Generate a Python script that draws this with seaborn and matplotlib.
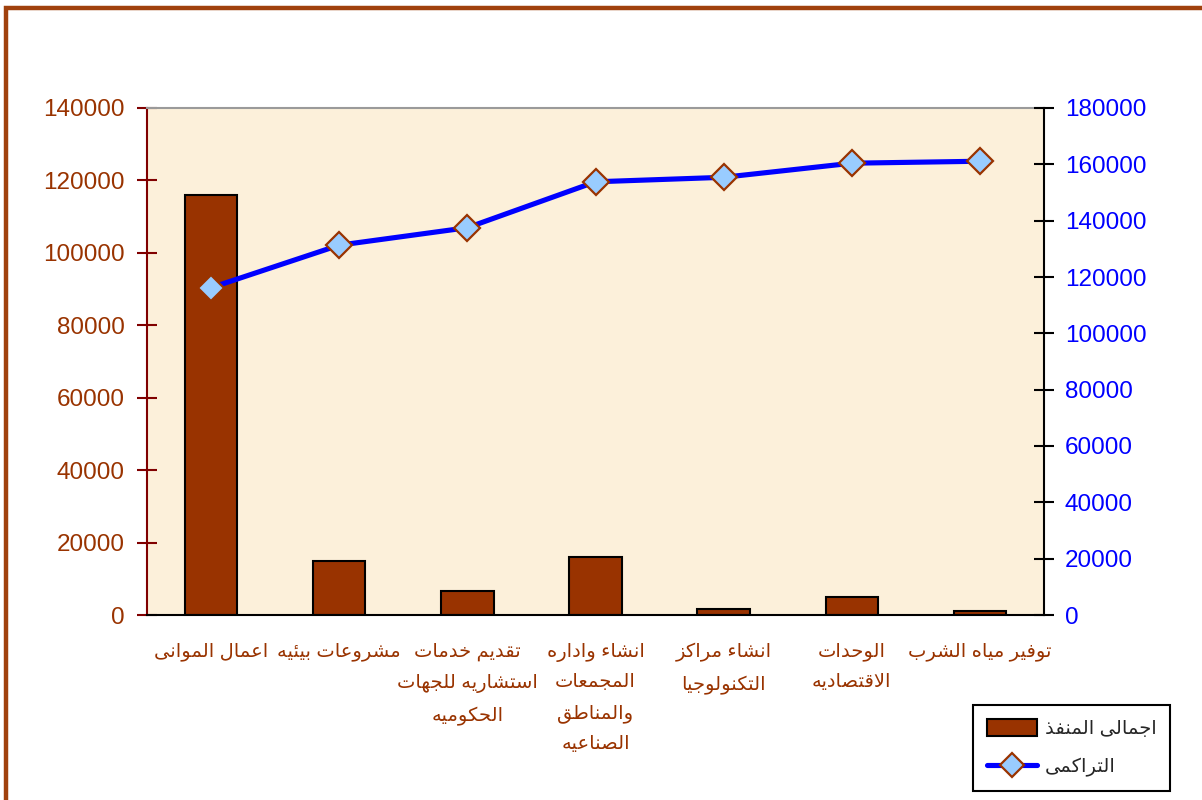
import numpy as np
import pandas as pd
import matplotlib
matplotlib.use("Agg")
import matplotlib.pyplot as plt
import seaborn as sns
from matplotlib.patches import Patch, Rectangle
from matplotlib.lines import Line2D

# ---------------- data ----------------
categories = [
    "اعمال الموانى",
    "مشروعات بيئيه",
    "تقديم خدمات\nاستشاريه للجهات\nالحكوميه",
    "انشاء واداره\nالمجمعات\nوالمناطق\nالصناعيه",
    "انشاء مراكز\nالتكنولوجيا",
    "الوحدات\nالاقتصاديه",
    "توفير مياه الشرب",
]
executed = [116000, 14900, 6600, 15900, 1700, 5000, 1200]
cumulative = [116200, 131300, 137500, 153800, 155400, 160400, 161100]
left_ticks = [0, 20000, 40000, 60000, 80000, 100000, 120000, 140000]
right_ticks = [0, 20000, 40000, 60000, 80000, 100000, 120000, 140000, 160000, 180000]
legend_bar = "اجمالى المنفذ"
legend_line = "التراكمى"

# ---------------- minimal Arabic shaping (presentation forms) ----------------
def _dual(start):
    return (start, start + 1, start + 2, start + 3)

FORMS = {
    '\u0621': (0xFE80,),
    '\u0622': (0xFE81, 0xFE82), '\u0623': (0xFE83, 0xFE84),
    '\u0624': (0xFE85, 0xFE86), '\u0625': (0xFE87, 0xFE88),
    '\u0626': _dual(0xFE89), '\u0627': (0xFE8D, 0xFE8E),
    '\u0628': _dual(0xFE8F), '\u0629': (0xFE93, 0xFE94),
    '\u062A': _dual(0xFE95), '\u062B': _dual(0xFE99),
    '\u062C': _dual(0xFE9D), '\u062D': _dual(0xFEA1),
    '\u062E': _dual(0xFEA5), '\u062F': (0xFEA9, 0xFEAA),
    '\u0630': (0xFEAB, 0xFEAC), '\u0631': (0xFEAD, 0xFEAE),
    '\u0632': (0xFEAF, 0xFEB0), '\u0633': _dual(0xFEB1),
    '\u0634': _dual(0xFEB5), '\u0635': _dual(0xFEB9),
    '\u0636': _dual(0xFEBD), '\u0637': _dual(0xFEC1),
    '\u0638': _dual(0xFEC5), '\u0639': _dual(0xFEC9),
    '\u063A': _dual(0xFECD), '\u0641': _dual(0xFED1),
    '\u0642': _dual(0xFED5), '\u0643': _dual(0xFED9),
    '\u0644': _dual(0xFEDD), '\u0645': _dual(0xFEE1),
    '\u0646': _dual(0xFEE5), '\u0647': _dual(0xFEE9),
    '\u0648': (0xFEED, 0xFEEE),
    '\u0649': (0xFEEF, 0xFEF0, 0xFBE8, 0xFBE9),
    '\u064A': _dual(0xFEF1),
}
LAM_ALEF = {
    '\u0622': (0xFEF5, 0xFEF6), '\u0623': (0xFEF7, 0xFEF8),
    '\u0625': (0xFEF9, 0xFEFA), '\u0627': (0xFEFB, 0xFEFC),
}

def shape_line(s):
    units = []
    i = 0
    while i < len(s):
        c = s[i]
        if c == '\u0644' and i + 1 < len(s) and s[i + 1] in LAM_ALEF:
            units.append(LAM_ALEF[s[i + 1]])
            i += 2
            continue
        units.append(FORMS.get(c, c))
        i += 1
    out = []
    for k, u in enumerate(units):
        if isinstance(u, str):
            out.append(u)
            continue
        prev = units[k - 1] if k > 0 else None
        nxt = units[k + 1] if k + 1 < len(units) else None
        jp = prev is not None and not isinstance(prev, str) and len(prev) == 4
        jn = len(u) == 4 and nxt is not None and not isinstance(nxt, str) and len(nxt) >= 2
        if jp and jn:
            f = u[3]
        elif jp:
            f = u[1]
        elif jn:
            f = u[2]
        else:
            f = u[0]
        out.append(chr(f))
    return ''.join(out)[::-1]

def ar(text):
    return '\n'.join(shape_line(l) for l in text.split('\n'))

# ---------------- style ----------------
sns.set_theme(style="white")
plt.rcParams['font.family'] = ['Liberation Sans', 'DejaVu Sans']

BROWN = '#993300'
DARKRED = '#800000'
BLUE = '#0000FF'
LIGHTBLUE = '#99CCFF'
PARCH = '#FCF0DA'

fig = plt.figure(figsize=(12.02, 8.0), dpi=100)
fig.patch.set_facecolor('white')
# outer brown frame (left and top edges visible)
fig.patches.append(Rectangle((5.5 / 1202, -0.1), 1.2, 1 - 7.5 / 800 + 0.1,
                             transform=fig.transFigure, fill=False,
                             edgecolor='#A0410D', linewidth=3.2, zorder=0))

ax = fig.add_axes([147 / 1202, 1 - 615 / 800, (1044 - 147) / 1202, (615 - 108) / 800])
ax.set_facecolor(PARCH)

df = pd.DataFrame({'cat': [str(i) for i in range(len(executed))], 'val': executed})
sns.barplot(data=df, x='cat', y='val', ax=ax, color=BROWN, saturation=1,
            width=0.41, edgecolor='black', linewidth=1.5, zorder=2)
ax.set_xlim(-0.5, len(executed) - 0.5)
ax.set_ylim(0, 140000)
ax.set_yticks(left_ticks)
ax.set_yticklabels([str(v) for v in left_ticks])
ax.set_xticks(range(len(categories)))
ax.set_xticklabels([ar(c) for c in categories], color=BROWN, fontsize=14,
                   linespacing=1.95, va='top')
ax.set_xticks(np.arange(-0.5, len(categories), 1.0), minor=True)
ax.tick_params(axis='x', which='major', length=0, pad=20)
ax.tick_params(axis='x', which='minor', direction='inout', length=16,
               width=1.3, color='black')
ax.tick_params(axis='y', direction='inout', length=14, width=1.5,
               color=DARKRED, labelcolor=BROWN, labelsize=17.5, pad=9, left=True)
ax.set_xlabel('')
ax.set_ylabel('')
ax.spines['left'].set_color(DARKRED)
ax.spines['left'].set_linewidth(1.5)
ax.spines['bottom'].set_color('black')
ax.spines['bottom'].set_linewidth(1.5)
ax.spines['top'].set_color('#9A9A9A')
ax.spines['top'].set_linewidth(1.5)
ax.spines['right'].set_visible(False)

ax2 = ax.twinx()
sns.lineplot(x=np.arange(len(cumulative)), y=cumulative, ax=ax2, color=BLUE,
             linewidth=3.7, marker='D', markersize=13,
             markerfacecolor=LIGHTBLUE, markeredgecolor=BROWN,
             markeredgewidth=1.6, zorder=3)
ax2.set_ylim(0, 180000)
ax2.set_yticks(right_ticks)
ax2.set_yticklabels([str(v) for v in right_ticks])
ax2.tick_params(axis='y', direction='inout', length=14, width=1.5,
                color='black', labelcolor=BLUE, labelsize=17.5, pad=8, right=True)
ax2.spines['right'].set_color('black')
ax2.spines['right'].set_linewidth(1.5)
for side in ['left', 'top', 'bottom']:
    ax2.spines[side].set_visible(False)
ax2.set_ylabel('')
ax2.grid(False)
ax.grid(False)

handles = [
    Patch(facecolor=BROWN, edgecolor='black', linewidth=1.5),
    Line2D([0], [0], color=BLUE, linewidth=3.7, marker='D', markersize=12,
           markerfacecolor=LIGHTBLUE, markeredgecolor=BROWN, markeredgewidth=1.6),
]
leg = fig.legend(handles, [ar(legend_bar), ar(legend_line)],
                 loc='lower left', bbox_to_anchor=(973 / 1202, 1 - 791 / 800),
                 fontsize=14, frameon=True, fancybox=False, shadow=False,
                 handlelength=2.6, handleheight=1.0, handletextpad=0.4,
                 labelspacing=1.0, borderpad=0.7, borderaxespad=0)
leg.get_frame().set_edgecolor('black')
leg.get_frame().set_linewidth(1.5)
leg.get_frame().set_facecolor('white')
leg.get_frame().set_alpha(1)

fig.savefig('out.png', dpi=100)
